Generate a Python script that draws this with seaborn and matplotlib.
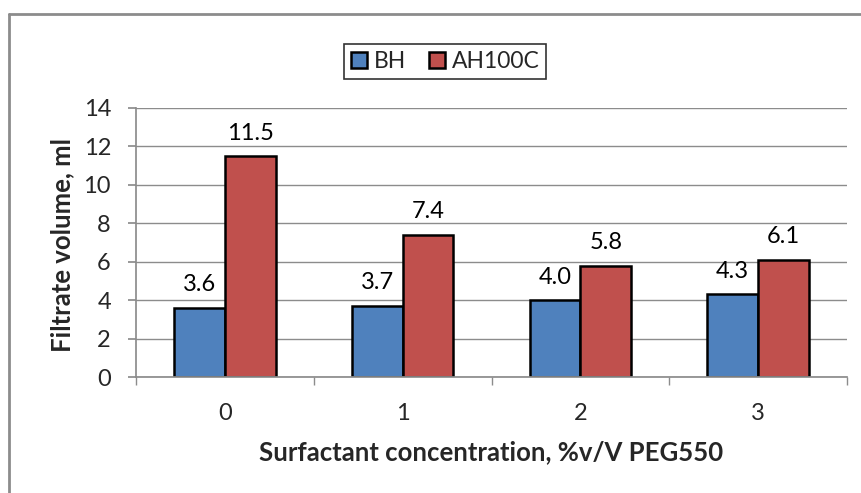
import matplotlib
matplotlib.use("Agg")
import matplotlib.pyplot as plt
import seaborn as sns
import pandas as pd
from matplotlib.lines import Line2D

concentrations = ["0", "1", "2", "3"]
bh_values = [3.6, 3.7, 4.0, 4.3]
ah100c_values = [11.5, 7.4, 5.8, 6.1]
series_names = ["BH", "AH100C"]
y_ticks = [0, 2, 4, 6, 8, 10, 12, 14]

df = pd.DataFrame({
    "conc": concentrations * 2,
    "volume": bh_values + ah100c_values,
    "series": [series_names[0]] * 4 + [series_names[1]] * 4,
})

sns.set_theme(style="white")
plt.rcParams["font.family"] = ["Lato", "DejaVu Sans"]

fig = plt.figure(figsize=(8.61, 4.93), dpi=100)
ax = fig.add_axes([136 / 861, 1 - 377 / 493, 711 / 861, 269 / 493])

palette = {"BH": "#4F81BD", "AH100C": "#C0504D"}
sns.barplot(data=df, x="conc", y="volume", hue="series", palette=palette,
            width=0.57, edgecolor="black", linewidth=1.8, saturation=1,
            ax=ax, legend=False)

for cont in ax.containers:
    ax.bar_label(cont, fmt="%.1f", padding=9, fontsize=17, color="black")

ax.set_ylim(0, 14)
ax.set_yticks(y_ticks)
ax.set_xlim(-0.5, 3.5)
ax.yaxis.grid(True, color="#8c8c8c", linewidth=1)
ax.set_axisbelow(True)
for s in ["top", "right"]:
    ax.spines[s].set_visible(False)
ax.spines["left"].set_color("#8c8c8c")
ax.spines["bottom"].set_color("#8c8c8c")
ax.tick_params(axis="y", labelsize=17, length=6, color="#8c8c8c", left=True,
               direction="out", pad=12)
ax.tick_params(axis="x", labelsize=17, length=0, pad=19)
# category boundary ticks on the x-axis
ax.set_xticks([0.5 + i for i in range(-1, 4)], minor=True)
ax.tick_params(axis="x", which="minor", length=6, color="#8c8c8c", bottom=True)

ax.set_xlabel("Surfactant concentration, %v/V PEG550", fontsize=18.5,
              fontweight="bold", labelpad=11)
ax.set_ylabel("Filtrate volume, ml", fontsize=18.5, fontweight="bold",
              va="center", ha="center")
ax.yaxis.set_label_coords(-0.104, 0.49)

handles = [plt.Rectangle((0, 0), 1, 1, facecolor=palette[n], edgecolor="black",
                         linewidth=1.8) for n in series_names]
leg = fig.legend(handles, series_names, loc="center", bbox_to_anchor=(445 / 861, 1 - 61.5 / 493),
                 ncol=2, fontsize=16.5, frameon=True, fancybox=False,
                 handlelength=0.7, handleheight=0.7, handletextpad=0.3,
                 columnspacing=1.0, borderpad=0.3)
leg.get_frame().set_edgecolor("black")
leg.get_frame().set_linewidth(1.2)

# outer chart frame
fig.add_artist(Line2D([9 / 861, 9 / 861], [0, 1 - 14 / 493], color="#8c8c8c",
                      linewidth=2, transform=fig.transFigure))
fig.add_artist(Line2D([9 / 861, 1], [1 - 14 / 493, 1 - 14 / 493], color="#8c8c8c",
                      linewidth=2, transform=fig.transFigure))

fig.savefig("out.png", dpi=100)
